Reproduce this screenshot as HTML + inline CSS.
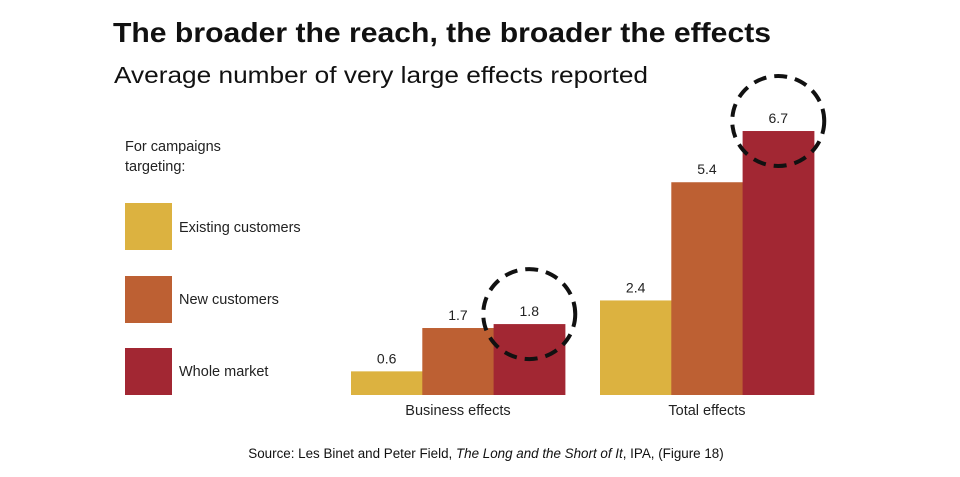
<!DOCTYPE html>
<html><head><meta charset="utf-8"><style>
body{margin:0;background:#fff;width:960px;height:477px;overflow:hidden;font-family:"Liberation Sans",sans-serif}
svg{display:block}
</style></head><body>
<svg id="chart" width="960" height="477">
<text x="113" y="42" font-size="28" font-weight="bold" fill="#111" textLength="658" lengthAdjust="spacingAndGlyphs">The broader the reach, the broader the effects</text>
<text x="114" y="83" font-size="23" fill="#111" textLength="534" lengthAdjust="spacingAndGlyphs">Average number of very large effects reported</text>
<g font-size="14.5" fill="#222">
<text x="125" y="151">For campaigns</text>
<text x="125" y="171">targeting:</text>
<rect x="125" y="203" width="47" height="47" fill="#dcb240"/>
<text x="179" y="232">Existing customers</text>
<rect x="125" y="276" width="47" height="47" fill="#bd6033"/>
<text x="179" y="304">New customers</text>
<rect x="125" y="348" width="47" height="47" fill="#a22733"/>
<text x="179" y="376">Whole market</text>
</g>
<g id="bars"></g>
<text x="486" y="458" font-size="13.4" text-anchor="middle" fill="#111">Source: Les Binet and Peter Field, <tspan font-style="italic">The Long and the Short of It</tspan>, IPA, (Figure 18)</text>
</svg>
<script>
const categories=["Business effects","Total effects"];
const existing=[0.6,2.4];
const newCust=[1.7,5.4];
const whole=[1.8,6.7];
const series=[existing,newCust,whole];
const colors=["#dcb240","#bd6033","#a22733"];
const sNames=["existing","new","whole"];
const base=395, scale=39.4;
const groupX=[351,600], barW=71.3;
const y=v=>base-v*scale;
const g=document.getElementById('bars');
const NS="http://www.w3.org/2000/svg";
categories.forEach((c,i)=>{
  series.forEach((s,j)=>{
    const x=groupX[i]+j*barW;
    const r=document.createElementNS(NS,'rect');
    r.setAttribute('x',x);r.setAttribute('y',y(s[i]));
    r.setAttribute('width',barW+0.5);r.setAttribute('height',base-y(s[i]));
    r.setAttribute('fill',colors[j]);
    
    
    g.appendChild(r);
    const t=document.createElementNS(NS,'text');
    t.setAttribute('x',x+barW/2);t.setAttribute('y',y(s[i])-8);
    t.setAttribute('text-anchor','middle');t.setAttribute('font-size','14');t.setAttribute('fill','#222');
    t.textContent=s[i].toFixed(1);
    
    
    g.appendChild(t);
  });
  const l=document.createElementNS(NS,'text');
  l.setAttribute('x',groupX[i]+1.5*barW);l.setAttribute('y',415);
  l.setAttribute('text-anchor','middle');l.setAttribute('font-size','14.5');l.setAttribute('fill','#222');
  l.textContent=c;
  
  
  g.appendChild(l);
  const xc=groupX[i]+2.5*barW;
  const ci=document.createElementNS(NS,'ellipse');
  ci.setAttribute('cx',xc);ci.setAttribute('cy',y(whole[i])-10);
  ci.setAttribute('rx',46);ci.setAttribute('ry',45);
  ci.setAttribute('fill','none');ci.setAttribute('stroke','#111');
  ci.setAttribute('stroke-width','4');ci.setAttribute('stroke-dasharray','13 8');
  
  
  g.appendChild(ci);
});
</script>
</body></html>
